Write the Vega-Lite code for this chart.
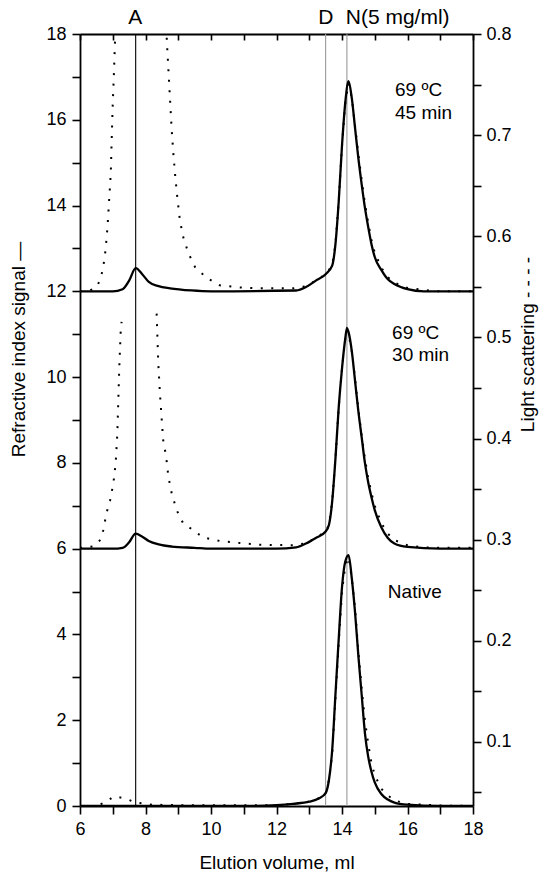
{
  "$schema": "https://vega.github.io/schema/vega-lite/v6.json",
  "width": 393,
  "height": 772,
  "autosize": {"type": "none"},
  "padding": {"left": 80, "top": 34, "right": 72, "bottom": 68},
  "background": "white",
  "config": {
    "font": "Liberation Sans",
    "view": {"stroke": null},
    "axis": {
      "grid": false,
      "ticks": true,
      "domainColor": "black",
      "domainWidth": 1.8,
      "tickColor": "black",
      "tickWidth": 1.6,
      "tickOpacity": 1,
      "labelColor": "black",
      "labelFontSize": 18,
      "labelFont": "Liberation Sans",
      "titleColor": "black",
      "titleFontSize": 19,
      "titleFontWeight": "normal",
      "titleFont": "Liberation Sans",
      "labelOverlap": false,
      "labelBound": false,
      "labelFlush": false
    }
  },
  "datasets": {
    "ri": [
      {"series": "native", "v": 6.0, "ri": 0.0},
      {"series": "native", "v": 11.0, "ri": 0.0},
      {"series": "native", "v": 12.0, "ri": 0.02},
      {"series": "native", "v": 12.5, "ri": 0.05},
      {"series": "native", "v": 13.0, "ri": 0.1},
      {"series": "native", "v": 13.3, "ri": 0.18},
      {"series": "native", "v": 13.5, "ri": 0.3},
      {"series": "native", "v": 13.6, "ri": 0.6},
      {"series": "native", "v": 13.7, "ri": 1.3},
      {"series": "native", "v": 13.8, "ri": 2.6},
      {"series": "native", "v": 13.9, "ri": 3.9},
      {"series": "native", "v": 14.0, "ri": 5.1},
      {"series": "native", "v": 14.1, "ri": 5.7},
      {"series": "native", "v": 14.2, "ri": 5.85},
      {"series": "native", "v": 14.3, "ri": 5.3},
      {"series": "native", "v": 14.4, "ri": 4.5},
      {"series": "native", "v": 14.5, "ri": 3.5},
      {"series": "native", "v": 14.6, "ri": 2.6},
      {"series": "native", "v": 14.7, "ri": 1.7},
      {"series": "native", "v": 14.8, "ri": 1.15},
      {"series": "native", "v": 14.9, "ri": 0.8},
      {"series": "native", "v": 15.0, "ri": 0.55},
      {"series": "native", "v": 15.2, "ri": 0.28},
      {"series": "native", "v": 15.4, "ri": 0.15},
      {"series": "native", "v": 15.6, "ri": 0.08},
      {"series": "native", "v": 16.0, "ri": 0.03},
      {"series": "native", "v": 17.0, "ri": 0.0},
      {"series": "native", "v": 18.0, "ri": 0.0},
      {"series": "30", "v": 6.0, "ri": 6.0},
      {"series": "30", "v": 7.0, "ri": 6.0},
      {"series": "30", "v": 7.3, "ri": 6.02},
      {"series": "30", "v": 7.5, "ri": 6.15},
      {"series": "30", "v": 7.7, "ri": 6.35},
      {"series": "30", "v": 7.9, "ri": 6.28},
      {"series": "30", "v": 8.1, "ri": 6.18},
      {"series": "30", "v": 8.4, "ri": 6.1},
      {"series": "30", "v": 8.8, "ri": 6.05},
      {"series": "30", "v": 9.5, "ri": 6.02},
      {"series": "30", "v": 10.0, "ri": 6.0},
      {"series": "30", "v": 12.0, "ri": 6.0},
      {"series": "30", "v": 12.6, "ri": 6.03},
      {"series": "30", "v": 12.9, "ri": 6.12},
      {"series": "30", "v": 13.2, "ri": 6.25},
      {"series": "30", "v": 13.5, "ri": 6.4},
      {"series": "30", "v": 13.6, "ri": 6.55},
      {"series": "30", "v": 13.7, "ri": 7.1},
      {"series": "30", "v": 13.8, "ri": 8.1},
      {"series": "30", "v": 13.9, "ri": 9.3},
      {"series": "30", "v": 14.0, "ri": 10.2},
      {"series": "30", "v": 14.1, "ri": 10.9},
      {"series": "30", "v": 14.15, "ri": 11.14},
      {"series": "30", "v": 14.2, "ri": 11.05},
      {"series": "30", "v": 14.3, "ri": 10.6},
      {"series": "30", "v": 14.4, "ri": 9.9},
      {"series": "30", "v": 14.5, "ri": 9.2},
      {"series": "30", "v": 14.6, "ri": 8.6},
      {"series": "30", "v": 14.7, "ri": 8.0},
      {"series": "30", "v": 14.8, "ri": 7.55},
      {"series": "30", "v": 14.9, "ri": 7.2},
      {"series": "30", "v": 15.0, "ri": 6.9},
      {"series": "30", "v": 15.2, "ri": 6.5},
      {"series": "30", "v": 15.4, "ri": 6.25},
      {"series": "30", "v": 15.6, "ri": 6.12},
      {"series": "30", "v": 16.0, "ri": 6.04},
      {"series": "30", "v": 17.0, "ri": 6.0},
      {"series": "30", "v": 18.0, "ri": 6.0},
      {"series": "45", "v": 6.0, "ri": 12.0},
      {"series": "45", "v": 7.0, "ri": 12.0},
      {"series": "45", "v": 7.3, "ri": 12.05},
      {"series": "45", "v": 7.5, "ri": 12.25},
      {"series": "45", "v": 7.7, "ri": 12.54},
      {"series": "45", "v": 7.9, "ri": 12.4},
      {"series": "45", "v": 8.1, "ri": 12.22},
      {"series": "45", "v": 8.4, "ri": 12.12},
      {"series": "45", "v": 8.75, "ri": 12.07},
      {"series": "45", "v": 9.4, "ri": 12.02},
      {"series": "45", "v": 10.0, "ri": 12.0},
      {"series": "45", "v": 12.6, "ri": 12.02},
      {"series": "45", "v": 12.9, "ri": 12.1},
      {"series": "45", "v": 13.2, "ri": 12.25},
      {"series": "45", "v": 13.5, "ri": 12.4},
      {"series": "45", "v": 13.7, "ri": 12.6},
      {"series": "45", "v": 13.8, "ri": 13.1},
      {"series": "45", "v": 13.9, "ri": 14.1},
      {"series": "45", "v": 14.0, "ri": 15.4},
      {"series": "45", "v": 14.1, "ri": 16.4},
      {"series": "45", "v": 14.2, "ri": 16.9},
      {"series": "45", "v": 14.3, "ri": 16.5},
      {"series": "45", "v": 14.4, "ri": 15.8},
      {"series": "45", "v": 14.5, "ri": 15.1},
      {"series": "45", "v": 14.6, "ri": 14.5},
      {"series": "45", "v": 14.7, "ri": 13.95},
      {"series": "45", "v": 14.8, "ri": 13.5},
      {"series": "45", "v": 14.9, "ri": 13.1},
      {"series": "45", "v": 15.0, "ri": 12.8},
      {"series": "45", "v": 15.2, "ri": 12.5},
      {"series": "45", "v": 15.4, "ri": 12.28},
      {"series": "45", "v": 15.6, "ri": 12.17},
      {"series": "45", "v": 16.0, "ri": 12.05},
      {"series": "45", "v": 16.5, "ri": 12.0},
      {"series": "45", "v": 18.0, "ri": 12.0}
    ],
    "ls": [
      {"seg": "n", "v": 6.0, "ls": 0.0366},
      {"seg": "n", "v": 6.5, "ls": 0.0366},
      {"seg": "n", "v": 6.81, "ls": 0.0408},
      {"seg": "n", "v": 7.02, "ls": 0.0459},
      {"seg": "n", "v": 7.22, "ls": 0.0451},
      {"seg": "n", "v": 7.47, "ls": 0.043},
      {"seg": "n", "v": 7.7, "ls": 0.04},
      {"seg": "n", "v": 8.2, "ls": 0.0379},
      {"seg": "n", "v": 9.0, "ls": 0.0374},
      {"seg": "n", "v": 12.0, "ls": 0.0374},
      {"seg": "n", "v": 12.5, "ls": 0.0387},
      {"seg": "n", "v": 13.0, "ls": 0.0408},
      {"seg": "n", "v": 13.3, "ls": 0.0442},
      {"seg": "n", "v": 13.5, "ls": 0.0493},
      {"seg": "n", "v": 13.6, "ls": 0.062},
      {"seg": "n", "v": 13.7, "ls": 0.0875},
      {"seg": "n", "v": 13.8, "ls": 0.1426},
      {"seg": "n", "v": 13.9, "ls": 0.1978},
      {"seg": "n", "v": 14.0, "ls": 0.2487},
      {"seg": "n", "v": 14.1, "ls": 0.2741},
      {"seg": "n", "v": 14.2, "ls": 0.2826},
      {"seg": "n", "v": 14.3, "ls": 0.2614},
      {"seg": "n", "v": 14.4, "ls": 0.2317},
      {"seg": "n", "v": 14.5, "ls": 0.1893},
      {"seg": "n", "v": 14.6, "ls": 0.1532},
      {"seg": "n", "v": 14.7, "ls": 0.1214},
      {"seg": "n", "v": 14.8, "ls": 0.0981},
      {"seg": "n", "v": 14.9, "ls": 0.079},
      {"seg": "n", "v": 15.0, "ls": 0.0671},
      {"seg": "n", "v": 15.2, "ls": 0.0536},
      {"seg": "n", "v": 15.4, "ls": 0.0472},
      {"seg": "n", "v": 15.6, "ls": 0.0421},
      {"seg": "n", "v": 16.0, "ls": 0.0387},
      {"seg": "n", "v": 17.0, "ls": 0.037},
      {"seg": "n", "v": 18.0, "ls": 0.0366},
      {"seg": "30a", "v": 6.0, "ls": 0.2919},
      {"seg": "30a", "v": 6.4, "ls": 0.2932},
      {"seg": "30a", "v": 6.63, "ls": 0.3},
      {"seg": "30a", "v": 6.71, "ls": 0.3093},
      {"seg": "30a", "v": 6.81, "ls": 0.3263},
      {"seg": "30a", "v": 6.92, "ls": 0.339},
      {"seg": "30a", "v": 7.02, "ls": 0.3559},
      {"seg": "30a", "v": 7.09, "ls": 0.3759},
      {"seg": "30a", "v": 7.14, "ls": 0.4052},
      {"seg": "30a", "v": 7.17, "ls": 0.4378},
      {"seg": "30a", "v": 7.2, "ls": 0.4709},
      {"seg": "30a", "v": 7.24, "ls": 0.504},
      {"seg": "30a", "v": 7.27, "ls": 0.5154},
      {"seg": "30b", "v": 8.34, "ls": 0.5235},
      {"seg": "30b", "v": 8.36, "ls": 0.504},
      {"seg": "30b", "v": 8.39, "ls": 0.4743},
      {"seg": "30b", "v": 8.44, "ls": 0.445},
      {"seg": "30b", "v": 8.49, "ls": 0.4213},
      {"seg": "30b", "v": 8.54, "ls": 0.3984},
      {"seg": "30b", "v": 8.63, "ls": 0.3822},
      {"seg": "30b", "v": 8.7, "ls": 0.3619},
      {"seg": "30b", "v": 8.8, "ls": 0.3458},
      {"seg": "30b", "v": 8.95, "ls": 0.3292},
      {"seg": "30b", "v": 9.15, "ls": 0.3161},
      {"seg": "30b", "v": 9.46, "ls": 0.3093},
      {"seg": "30b", "v": 9.76, "ls": 0.3021},
      {"seg": "30b", "v": 10.27, "ls": 0.2987},
      {"seg": "30b", "v": 10.89, "ls": 0.2966},
      {"seg": "30b", "v": 11.5, "ls": 0.2949},
      {"seg": "30b", "v": 12.5, "ls": 0.2945},
      {"seg": "30b", "v": 12.9, "ls": 0.2962},
      {"seg": "30b", "v": 13.2, "ls": 0.3017},
      {"seg": "30b", "v": 13.5, "ls": 0.308},
      {"seg": "30b", "v": 13.6, "ls": 0.3144},
      {"seg": "30b", "v": 13.7, "ls": 0.3377},
      {"seg": "30b", "v": 13.8, "ls": 0.3801},
      {"seg": "30b", "v": 13.9, "ls": 0.431},
      {"seg": "30b", "v": 14.0, "ls": 0.4692},
      {"seg": "30b", "v": 14.1, "ls": 0.4989},
      {"seg": "30b", "v": 14.15, "ls": 0.5074},
      {"seg": "30b", "v": 14.2, "ls": 0.5031},
      {"seg": "30b", "v": 14.3, "ls": 0.4862},
      {"seg": "30b", "v": 14.4, "ls": 0.4586},
      {"seg": "30b", "v": 14.5, "ls": 0.4289},
      {"seg": "30b", "v": 14.6, "ls": 0.4035},
      {"seg": "30b", "v": 14.7, "ls": 0.3801},
      {"seg": "30b", "v": 14.8, "ls": 0.361},
      {"seg": "30b", "v": 14.9, "ls": 0.3462},
      {"seg": "30b", "v": 15.0, "ls": 0.3335},
      {"seg": "30b", "v": 15.2, "ls": 0.3165},
      {"seg": "30b", "v": 15.4, "ls": 0.3059},
      {"seg": "30b", "v": 15.6, "ls": 0.2995},
      {"seg": "30b", "v": 16.0, "ls": 0.2945},
      {"seg": "30b", "v": 16.5, "ls": 0.2923},
      {"seg": "30b", "v": 17.0, "ls": 0.2919},
      {"seg": "30b", "v": 18.0, "ls": 0.2919},
      {"seg": "45", "v": 6.0, "ls": 0.5455},
      {"seg": "45", "v": 6.3, "ls": 0.5464},
      {"seg": "45", "v": 6.51, "ls": 0.5498},
      {"seg": "45", "v": 6.63, "ls": 0.5582},
      {"seg": "45", "v": 6.71, "ls": 0.5697},
      {"seg": "45", "v": 6.78, "ls": 0.5863},
      {"seg": "45", "v": 6.84, "ls": 0.6091},
      {"seg": "45", "v": 6.89, "ls": 0.6359},
      {"seg": "45", "v": 6.94, "ls": 0.6622},
      {"seg": "45", "v": 6.97, "ls": 0.6982},
      {"seg": "45", "v": 7.0, "ls": 0.7313},
      {"seg": "45", "v": 7.04, "ls": 0.7644},
      {"seg": "45", "v": 7.07, "ls": 0.7941},
      {"seg": "45", "v": 7.12, "ls": 0.8424},
      {"seg": "45", "v": 7.2, "ls": 0.9272},
      {"seg": "45", "v": 8.55, "ls": 0.9272},
      {"seg": "45", "v": 8.62, "ls": 0.8424},
      {"seg": "45", "v": 8.65, "ls": 0.7941},
      {"seg": "45", "v": 8.7, "ls": 0.7644},
      {"seg": "45", "v": 8.75, "ls": 0.7347},
      {"seg": "45", "v": 8.8, "ls": 0.705},
      {"seg": "45", "v": 8.85, "ls": 0.6821},
      {"seg": "45", "v": 8.9, "ls": 0.6622},
      {"seg": "45", "v": 8.97, "ls": 0.6388},
      {"seg": "45", "v": 9.05, "ls": 0.6159},
      {"seg": "45", "v": 9.15, "ls": 0.5994},
      {"seg": "45", "v": 9.31, "ls": 0.5833},
      {"seg": "45", "v": 9.51, "ls": 0.5697},
      {"seg": "45", "v": 9.87, "ls": 0.5587},
      {"seg": "45", "v": 10.27, "ls": 0.5515},
      {"seg": "45", "v": 10.89, "ls": 0.5494},
      {"seg": "45", "v": 11.5, "ls": 0.5485},
      {"seg": "45", "v": 12.5, "ls": 0.5485},
      {"seg": "45", "v": 12.9, "ls": 0.5506},
      {"seg": "45", "v": 13.2, "ls": 0.5561},
      {"seg": "45", "v": 13.5, "ls": 0.5625},
      {"seg": "45", "v": 13.7, "ls": 0.571},
      {"seg": "45", "v": 13.8, "ls": 0.5922},
      {"seg": "45", "v": 13.9, "ls": 0.6346},
      {"seg": "45", "v": 14.0, "ls": 0.6897},
      {"seg": "45", "v": 14.1, "ls": 0.7321},
      {"seg": "45", "v": 14.2, "ls": 0.7512},
      {"seg": "45", "v": 14.3, "ls": 0.7364},
      {"seg": "45", "v": 14.4, "ls": 0.7088},
      {"seg": "45", "v": 14.5, "ls": 0.6812},
      {"seg": "45", "v": 14.6, "ls": 0.6558},
      {"seg": "45", "v": 14.7, "ls": 0.6325},
      {"seg": "45", "v": 14.8, "ls": 0.6134},
      {"seg": "45", "v": 14.9, "ls": 0.5964},
      {"seg": "45", "v": 15.0, "ls": 0.5837},
      {"seg": "45", "v": 15.2, "ls": 0.5689},
      {"seg": "45", "v": 15.4, "ls": 0.5595},
      {"seg": "45", "v": 15.6, "ls": 0.554},
      {"seg": "45", "v": 16.0, "ls": 0.5489},
      {"seg": "45", "v": 16.5, "ls": 0.5468},
      {"seg": "45", "v": 17.0, "ls": 0.5455},
      {"seg": "45", "v": 18.0, "ls": 0.5455}
    ],
    "marks": [
      {"v": 7.7, "kind": "A"},
      {"v": 13.5, "kind": "D"},
      {"v": 14.15, "kind": "N"}
    ],
    "notes": [
      {"v": 15.62, "ri": 16.69, "label": "69 ºC"},
      {"v": 15.62, "ri": 16.15, "label": "45 min"},
      {"v": 15.53, "ri": 11.03, "label": "69 ºC"},
      {"v": 15.53, "ri": 10.51, "label": "30 min"},
      {"v": 15.4, "ri": 4.99, "label": "Native"}
    ],
    "tops": [
      {"v": 7.69, "ri": 18.38, "label": "A"},
      {"v": 13.51, "ri": 18.38, "label": "D"},
      {"v": 15.7, "ri": 18.38, "label": "N(5 mg/ml)"}
    ]
  },
  "layer": [
    {
      "data": {"name": "ri"},
      "mark": {"type": "point", "opacity": 0},
      "encoding": {
        "x": {
          "field": "v", "type": "quantitative", "scale": {"domain": [6, 18], "nice": false},
          "axis": {"orient": "top", "values": [6, 7, 8, 9, 10, 11, 12, 13, 14, 15, 16, 17, 18], "labels": false, "ticks": true, "tickSize": -6, "title": null}
        },
        "y": {
          "field": "ri", "type": "quantitative", "scale": {"domain": [0, 18], "nice": false},
          "axis": {
            "orient": "left",
            "values": [0, 1, 2, 3, 4, 5, 6, 7, 8, 9, 10, 11, 12, 13, 14, 15, 16, 17, 18],
            "labelExpr": "datum.value % 2 == 0 ? datum.label : ''",
            "ticks": true, "tickSize": 8, "labelPadding": 6,
            "title": "Refractive index signal —", "titleAngle": -90, "titleBaseline": "bottom", "titleAlign": "center", "titleX": -52, "titleY": 315
          }
        }
      }
    },
    {
      "data": {"name": "marks"},
      "mark": {"type": "rule", "strokeWidth": 1.1},
      "encoding": {
        "x": {"field": "v", "type": "quantitative", "scale": {"domain": [6, 18], "nice": false}, "axis": null},
        "color": {"field": "kind", "type": "nominal", "scale": {"domain": ["A", "D", "N"], "range": ["#000000", "#9a9a9a", "#9a9a9a"]}, "legend": null}
      }
    },
    {
      "data": {"name": "ls"},
      "mark": {"type": "line", "color": "black", "strokeWidth": 2, "strokeDash": [2, 8.5], "clip": true},
      "encoding": {
        "x": {
          "field": "v", "type": "quantitative", "scale": {"domain": [6, 18], "nice": false},
          "axis": {
            "orient": "bottom",
            "values": [6, 7, 8, 9, 10, 11, 12, 13, 14, 15, 16, 17, 18],
            "labelExpr": "datum.value % 2 == 0 ? datum.label : ''",
            "ticks": true, "tickSize": 8, "labelPadding": 6,
            "title": "Elution volume, ml", "titlePadding": 15
          }
        },
        "y": {
          "field": "ls", "type": "quantitative", "scale": {"domain": [0.0366, 0.8], "nice": false, "zero": false},
          "axis": {
            "orient": "right",
            "values": [0.05, 0.1, 0.15, 0.2, 0.25, 0.3, 0.35, 0.4, 0.45, 0.5, 0.55, 0.6, 0.65, 0.7, 0.75, 0.8],
            "labelExpr": "round(datum.value * 20) % 2 == 0 ? format(datum.value, '.1f') : ''",
            "ticks": true, "tickSize": 8, "labelPadding": 5,
            "title": "Light scattering - - - -", "titleAngle": -90, "titleBaseline": "bottom", "titleAlign": "center", "titleX": 64, "titleY": 310
          }
        },
        "detail": {"field": "seg", "type": "nominal"}
      }
    },
    {
      "encoding": {
        "x": {"field": "v", "type": "quantitative", "scale": {"domain": [6, 18], "nice": false}, "axis": null},
        "y": {"field": "ri", "type": "quantitative", "scale": {"domain": [0, 18], "nice": false}, "axis": null}
      },
      "layer": [
        {
          "data": {"name": "ri"},
          "mark": {"type": "line", "color": "black", "strokeWidth": 2.3, "interpolate": "monotone", "clip": true},
          "encoding": {"detail": {"field": "series", "type": "nominal"}}
        },
        {
          "data": {"name": "notes"},
          "mark": {"type": "text", "align": "left", "baseline": "middle", "fontSize": 19, "color": "black"},
          "encoding": {"text": {"field": "label", "type": "nominal"}}
        },
        {
          "data": {"name": "tops"},
          "mark": {"type": "text", "align": "center", "baseline": "middle", "fontSize": 21, "color": "black"},
          "encoding": {"text": {"field": "label", "type": "nominal"}}
        }
      ]
    }
  ],
  "resolve": {"scale": {"y": "independent"}, "axis": {"x": "independent", "y": "independent"}}
}
